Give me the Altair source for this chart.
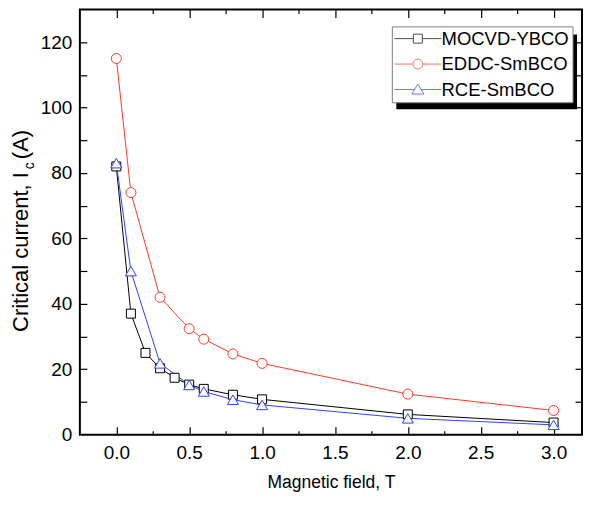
import altair as alt
import pandas as pd

# ---------------- data ----------------
series_names = ["MOCVD-YBCO", "EDDC-SmBCO", "RCE-SmBCO"]
series_colors = ["#000000", "#ff3b24", "#2a44ff"]

mocvd_field = [0.0, 0.1, 0.2, 0.3, 0.4, 0.5, 0.6, 0.8, 1.0, 2.0, 3.0]
mocvd_ic = [82, 37, 25, 20.3, 17.4, 15.3, 14.0, 12.2, 10.8, 6.2, 3.7]

eddc_field = [0.0, 0.1, 0.3, 0.5, 0.6, 0.8, 1.0, 2.0, 3.0]
eddc_ic = [115, 74, 42, 32.4, 29.2, 24.7, 21.8, 12.4, 7.4]

rce_field = [0.0, 0.1, 0.3, 0.5, 0.6, 0.8, 1.0, 2.0, 3.0]
rce_ic = [83, 50, 21.8, 15.2, 13.2, 10.7, 9.1, 5.0, 3.0]

x_major = [0.0, 0.5, 1.0, 1.5, 2.0, 2.5, 3.0]
x_minor = [0.25, 0.75, 1.25, 1.75, 2.25, 2.75]
y_labels = [0, 20, 40, 60, 80, 100, 120]
y_ticks = [10, 20, 30, 40, 50, 60, 70, 80, 90, 100, 110, 120]

rows = []
for name, xs, ys in zip(series_names, [mocvd_field, eddc_field, rce_field],
                        [mocvd_ic, eddc_ic, rce_ic]):
    for i, (a, b) in enumerate(zip(xs, ys)):
        rows.append({"field": a, "ic": b, "sample": name, "i": i})
df = pd.DataFrame(rows)

# ---------------- layout ----------------
W = 503
H = 426
SANS = "Liberation Sans, Arial"

xscale = alt.Scale(domain=[-0.25, 3.195], nice=False, zero=False)
yscale = alt.Scale(domain=[0, 130], nice=False, zero=True)

color_point = alt.Color("sample:N", scale=alt.Scale(domain=series_names, range=series_colors), legend=None)


def tick_axis(orient, offset, values, size):
    return alt.Axis(orient=orient, offset=offset, values=values, labels=False, domain=False,
                    ticks=True, tickSize=size, tickWidth=1.2, tickColor="black",
                    grid=False, title=None, minExtent=0)


base = alt.Chart(df)

lines = base.mark_line(strokeWidth=1).encode(
    x=alt.X("field:Q", scale=xscale,
            axis=alt.Axis(orient="bottom", values=x_major, format=".1f", ticks=False, tickSize=0,
                          domain=False, grid=False, labelFont=SANS, labelFontSize=19,
                          labelColor="black", labelPadding=9,
                          title="Magnetic field, T", titleFont=SANS, titleFontSize=17.5,
                          titleFontWeight="normal", titleColor="black", titlePadding=11)),
    y=alt.Y("ic:Q", scale=yscale,
            axis=alt.Axis(orient="left", values=y_labels, ticks=False, tickSize=0, domain=False,
                          grid=False, labelFont=SANS, labelFontSize=19, labelColor="black",
                          labelPadding=8, title=None)),
    color=color_point,
    order=alt.Order("i:Q"),
)

points = base.mark_point(filled=False, fill="white", fillOpacity=1, opacity=1, strokeWidth=1).encode(
    x=alt.X("field:Q", scale=xscale, axis=tick_axis("top", -H, x_major, 8)),
    y=alt.Y("ic:Q", scale=yscale, axis=tick_axis("right", -W, y_ticks, 7)),
    color=color_point,
    shape=alt.Shape("sample:N", scale=alt.Scale(domain=series_names,
                                                range=["square", "circle", "triangle-up"]),
                    legend=None),
    size=alt.Size("sample:N", scale=alt.Scale(domain=series_names, range=[81, 121, 150]),
                  legend=None),
)

ticks_far = base.mark_point(opacity=0).encode(
    x=alt.X("field:Q", scale=xscale, axis=tick_axis("bottom", -H, x_major, 8)),
    y=alt.Y("ic:Q", scale=yscale, axis=tick_axis("left", -W, y_ticks, 7)),
)

minor_bottom = base.mark_point(opacity=0).encode(
    x=alt.X("field:Q", scale=xscale, axis=tick_axis("top", -H, x_minor, 4)),
    y=alt.Y("ic:Q", scale=yscale, axis=None),
)

minor_top = base.mark_point(opacity=0).encode(
    x=alt.X("field:Q", scale=xscale, axis=tick_axis("bottom", -H, x_minor, 4)),
    y=alt.Y("ic:Q", scale=yscale, axis=None),
)

# legend shadow
one = pd.DataFrame({"k": [0]})
shadow = alt.Chart(one).mark_rect(color="black").encode(
    x=alt.value(317), x2=alt.value(498), y=alt.value(25), y2=alt.value(100))

legend_paths = [
    "M-4.7,0L-0.9,0M0.9,0L4.7,0M-0.9,-0.9L0.9,-0.9L0.9,0.9L-0.9,0.9Z",
    "M-4.7,0L-1,0M1,0L4.7,0M1,0A1,1,0,1,1,-1,0A1,1,0,1,1,1,0Z",
    "M-4.7,0L-0.66,0M0.66,0L4.7,0M0,-1.1L1.2,0.9L-1.2,0.9Z",
]

legend_layer = base.transform_filter("false").mark_point(filled=False, strokeWidth=1).encode(
    color=alt.Color("sample:N", scale=alt.Scale(domain=series_names, range=series_colors),
                    legend=alt.Legend(orient="none", legendX=312.5, legendY=17, title=None,
                                      direction="vertical", fillColor="white",
                                      strokeColor="#808080", padding=3, rowPadding=6.5,
                                      symbolSize=100, symbolStrokeWidth=1,
                                      symbolFillColor="white", symbolOffset=13.8,
                                      labelOffset=14.5, labelFont=SANS, labelFontSize=18.5,
                                      labelColor="black", labelLimit=400, cornerRadius=0)),
    shape=alt.Shape("sample:N", scale=alt.Scale(domain=series_names, range=legend_paths)),
)

# y title with subscript
ytitle_main = alt.Chart(one).mark_text(text="Critical current, I", angle=270, align="right",
                                       baseline="alphabetic", font=SANS, fontSize=22,
                                       color="black").encode(
    x=alt.value(-52), y=alt.value(163))
ytitle_sub = alt.Chart(one).mark_text(text="c", angle=270, align="left",
                                      baseline="alphabetic", font=SANS, fontSize=14,
                                      color="black").encode(
    x=alt.value(-45.5), y=alt.value(160))
ytitle_end = alt.Chart(one).mark_text(text="(A)", angle=270, align="left",
                                      baseline="alphabetic", font=SANS, fontSize=22,
                                      color="black").encode(
    x=alt.value(-52), y=alt.value(150))

chart = alt.layer(
    lines, points, ticks_far, minor_bottom, minor_top, shadow, legend_layer,
    ytitle_main, ytitle_sub, ytitle_end,
).resolve_scale(
    color="independent", shape="independent", size="independent"
).resolve_axis(
    x="independent", y="independent"
).properties(
    width=W, height=H,
    padding={"left": 2, "top": 0, "right": 0, "bottom": 0},
    background="white",
).configure_view(
    stroke="black", strokeWidth=2, fill="white"
)

chart.save("out.html", embed_options={"renderer": "svg", "actions": False})
